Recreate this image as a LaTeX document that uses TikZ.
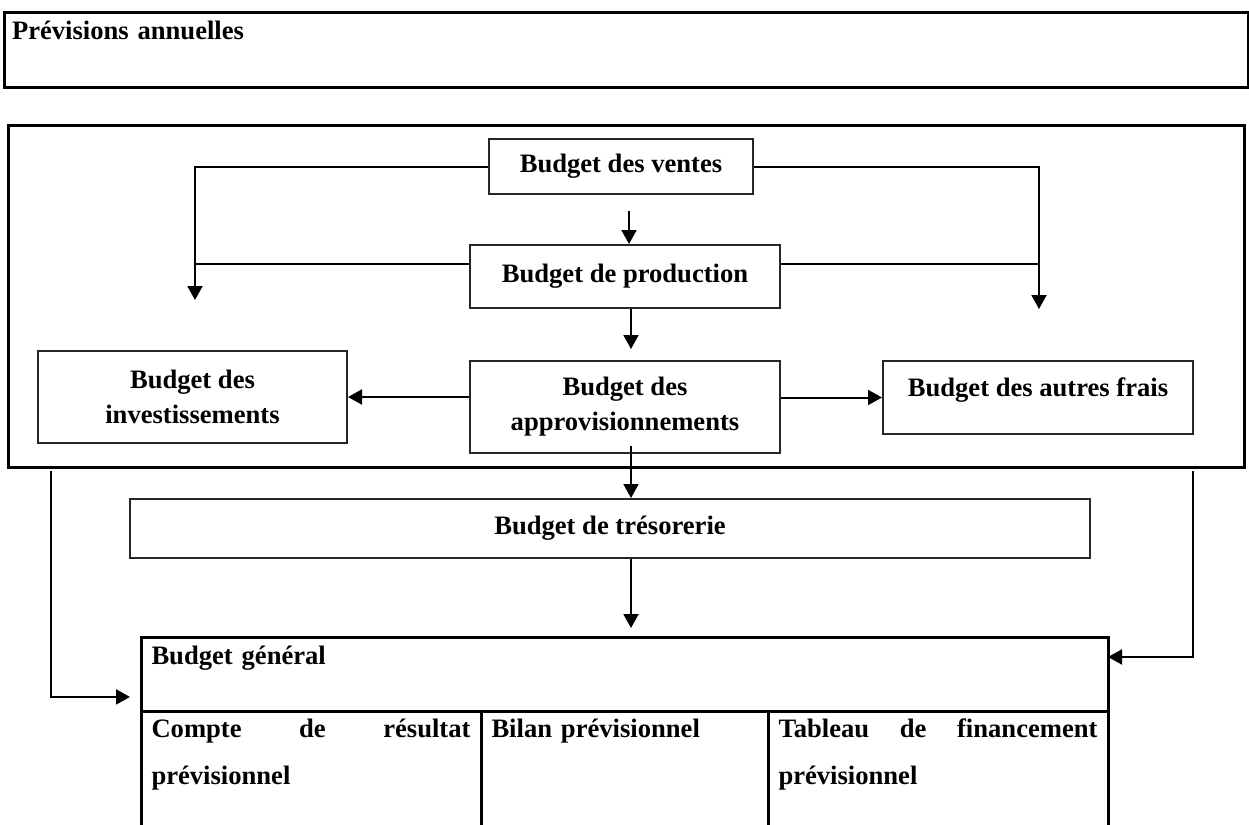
\documentclass[tikz,border=0pt]{standalone}
\usepackage{fontspec}
\setmainfont{Liberation Serif}
\usetikzlibrary{positioning, arrows.meta, calc}

\begin{document}
\begin{tikzpicture}[
  x=0.5pt, y=-0.5pt,
  >={Triangle[length=7pt, width=7.5pt]},
  every node/.style={font=\bfseries\fontsize{13.3}{17.5}\selectfont},
  frame/.style = {draw, line width=1.5pt, inner sep=0pt, outer sep=0pt},
  bud/.style   = {draw=black!85, line width=1pt, align=center, inner sep=0pt},
  cell/.style  = {draw, line width=1.5pt, inner xsep=5.25pt, inner ysep=0pt, outer sep=0pt, align=left,
                  anchor=north west, font=\bfseries\fontsize{13.3}{23.5}\selectfont},
  arr/.style   = {->, line width=1pt},
  lin/.style   = {line width=1pt},
]
  \path[use as bounding box, clip] (0,0) rectangle (1249,825);

  % outer frames
  \node[frame, anchor=north west, align=left, text width=614pt, inner xsep=4pt,
        text height=13.5pt, text depth=24pt] (prev) at (4,12) {Prévisions annuelles};
  \node[frame, minimum width=618pt, minimum height=171pt] (main) at (626,296) {};

  % budgets
  \node[bud, minimum width=132pt, minimum height=27.5pt] (ventes) at (621,166.5) {Budget des ventes};
  \node[bud, minimum width=155pt, minimum height=31.5pt] (prod)   at (625,276.5) {Budget de production};
  \node[bud, minimum width=155pt, minimum height=46pt]   (appro)  at (625,407)   {Budget des\\approvisionnements};
  \node[bud, minimum width=154.5pt, minimum height=46pt] (invest) at (192.5,397) {Budget des\\investissements};
  \node[bud, minimum width=155pt, text height=17.5pt, text depth=19pt] (autres) at (1038,397.5) {Budget des autres frais};
  \node[bud, minimum width=480pt, minimum height=29.5pt] (treso)  at (610,528.5) {Budget de trésorerie};

  % budget general
  \node[cell, text width=473pt, text height=13.5pt, text depth=23.5pt] (general) at (141,637) {Budget général};
  \node[cell, text width=159.5pt, text height=13pt, text depth=61.5pt] (crp) at (general.south west)
       {Compte\hfill de\hfill résultat\\prévisionnel};
  \node[cell, text width=133pt, text height=13pt, text depth=61.5pt] (bilan) at (crp.north east) {Bilan prévisionnel};
  \node[cell, text width=159.5pt, text height=13pt, text depth=61.5pt] (tfp) at (bilan.north east)
       {Tableau\hfill de\hfill financement\\prévisionnel};

  \coordinate (lt) at (195,300);
  \coordinate (rt) at (1039,309);
  \coordinate (lb) at (51,471);
  \coordinate (rb) at (1193,471);
  \coordinate (pw) at ($(prod.north west)!0.3!(prod.south west)$);
  \coordinate (pe) at ($(prod.north east)!0.3!(prod.south east)$);
  \coordinate (gw) at ($(general.south west)!0.19!(general.north west)$);
  \coordinate (ge) at ($(general.north east)!0.27!(general.south east)$);

  \draw[arr] (ventes.west) -| (lt);
  \draw[arr] (ventes.east) -| (rt);
  \draw[lin] (pw) -- (pw -| lt);
  \draw[lin] (pe) -- (pe -| rt);
  \draw[arr, shorten <=8pt] ([xshift=2pt]prod.north |- ventes.south) -- ([xshift=2pt]prod.north);
  \draw[arr, shorten >=5.5pt] ([xshift=3pt]prod.south) -- ([xshift=3pt]appro.north);
  \draw[arr] (invest.east -| appro.west) -- (invest.east);
  \draw[arr] (autres.west -| appro.east) -- (autres.west);
  \draw[arr, shorten <=-4pt] ([xshift=3pt]appro.south) -- ([xshift=3pt]appro.south |- treso.north);
  \draw[arr, shorten >=4.5pt] ([xshift=3pt]appro.south |- treso.south) -- ([xshift=3pt]appro.south |- general.north);
  \draw[arr, shorten >=5.5pt] (lb) |- (gw);
  \draw[arr] (rb) |- (ge);
\end{tikzpicture}
\end{document}
